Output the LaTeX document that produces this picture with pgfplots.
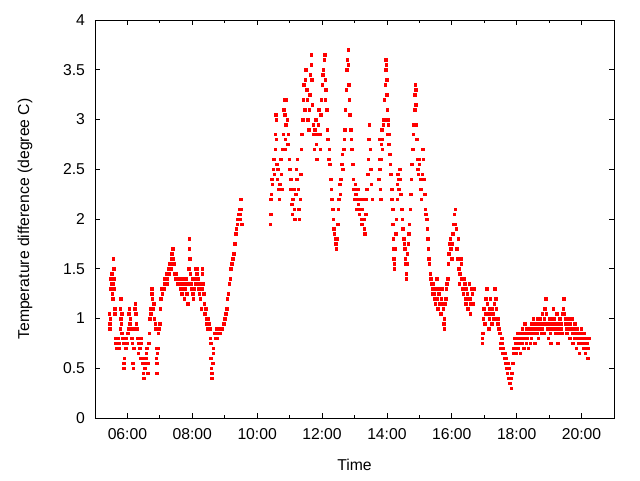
\documentclass[border=0pt]{standalone}
\usepackage{fontspec}
\setmainfont{Liberation Sans}
\usepackage{pgfplots}
\pgfplotsset{compat=1.18}
\begin{document}
\begin{tikzpicture}[x=1pt,y=1pt]
\path[use as bounding box] (0,0) rectangle (480,360);
\begin{axis}[
  at={(71.25pt,46.5pt)}, anchor=south west,
  width=389.25pt, height=298.5pt, scale only axis,
  xmin=5, xmax=21, ymin=0, ymax=4,
  xtick={6,8,...,20},
  xticklabels={06:00,08:00,10:00,12:00,14:00,16:00,18:00,20:00},
  minor xtick={7,9,...,19},
  ytick={0,0.5,...,4},
  yticklabels={0,0.5,1,1.5,2,2.5,3,3.5,4},
  tick align=inside,
  major tick length=3.4pt, minor tick length=2pt,
  tick style={black, line width=0.6pt},
  axis line style={black, line width=0.7pt},
  font=\fontsize{11.8}{14}\selectfont,
  xticklabel style={yshift=-4pt},
  yticklabel style={xshift=-4pt},
  xlabel={Time}, ylabel={Temperature difference (degree C)},
  xlabel style={at={(axis description cs:0.5,-0.1173)}, anchor=center},
  ylabel style={at={(axis description cs:-0.1349,0.5)}, anchor=center},
]
\addplot[only marks, red, mark=square*, mark size=0.95pt, mark options={draw=red, fill=red, line width=0.3pt}]
coordinates {
(5.44,1.05)(5.45,0.95)(5.46,0.90)(5.47,1.00)(5.48,1.30)(5.49,1.40)(5.50,1.35)(5.51,1.45)(5.52,1.40)(5.53,1.25)
(5.54,1.20)(5.55,1.35)(5.56,1.60)(5.57,1.50)(5.58,1.40)(5.59,1.30)(5.60,1.10)(5.61,1.05)(5.62,0.80)(5.63,0.75)
(5.65,0.70)(5.67,0.75)(5.69,0.70)(5.71,0.80)(5.73,0.75)(5.75,0.70)(5.77,0.90)(5.78,1.10)(5.79,1.20)(5.80,1.00)
(5.81,0.95)(5.82,1.05)(5.83,0.85)(5.85,0.80)(5.87,0.75)(5.88,0.55)(5.89,0.50)(5.90,0.60)(5.92,0.75)(5.94,0.70)
(5.96,0.80)(5.98,0.75)(6.00,0.85)(6.02,0.90)(6.04,1.05)(6.05,1.10)(6.07,0.95)(6.09,1.00)(6.11,0.90)(6.13,0.80)
(6.15,0.75)(6.17,0.55)(6.18,0.50)(6.20,0.70)(6.22,0.90)(6.23,1.10)(6.24,1.15)(6.25,1.05)(6.27,0.95)(6.29,0.90)
(6.31,0.80)(6.33,0.65)(6.35,0.75)(6.37,0.70)(6.39,0.60)(6.41,0.80)(6.43,0.75)(6.44,0.60)(6.46,0.55)(6.48,0.45)
(6.50,0.40)(6.52,0.55)(6.54,0.50)(6.56,0.60)(6.58,0.65)(6.60,0.70)(6.62,0.55)(6.63,0.45)(6.65,0.75)(6.67,0.85)
(6.69,1.00)(6.70,1.10)(6.72,1.05)(6.74,1.30)(6.75,1.25)(6.77,1.20)(6.79,1.10)(6.81,1.15)(6.83,1.00)(6.85,0.95)
(6.87,0.90)(6.88,0.70)(6.89,0.60)(6.90,0.45)(6.91,0.55)(6.92,0.65)(6.93,0.70)(6.95,0.85)(6.97,0.90)(6.99,0.95)
(7.01,1.10)(7.03,1.20)(7.05,1.30)(7.07,1.25)(7.09,1.30)(7.11,1.30)(7.13,1.35)(7.15,1.40)(7.17,1.40)(7.19,1.45)
(7.21,1.35)(7.23,1.40)(7.25,1.45)(7.27,1.50)(7.29,1.45)(7.31,1.55)(7.33,1.50)(7.35,1.60)(7.37,1.65)(7.39,1.70)
(7.41,1.60)(7.43,1.55)(7.45,1.45)(7.47,1.40)(7.49,1.40)(7.51,1.45)(7.53,1.40)(7.55,1.35)(7.57,1.40)(7.59,1.40)
(7.61,1.35)(7.63,1.40)(7.65,1.30)(7.67,1.25)(7.69,1.35)(7.71,1.40)(7.73,1.35)(7.75,1.20)(7.77,1.30)(7.79,1.40)
(7.81,1.35)(7.83,1.25)(7.85,1.15)(7.87,1.35)(7.89,1.50)(7.90,1.70)(7.91,1.80)(7.92,1.60)(7.93,1.45)(7.95,1.35)
(7.97,1.30)(7.99,1.40)(8.01,1.25)(8.03,1.20)(8.05,1.30)(8.07,1.40)(8.09,1.50)(8.11,1.35)(8.13,1.45)(8.15,1.50)
(8.17,1.40)(8.19,1.30)(8.21,1.25)(8.23,1.35)(8.25,1.20)(8.27,1.10)(8.29,1.30)(8.30,1.50)(8.31,1.45)(8.33,1.35)
(8.35,1.25)(8.37,1.15)(8.39,1.05)(8.41,1.10)(8.43,1.00)(8.45,0.95)(8.47,0.90)(8.49,1.00)(8.51,0.95)(8.53,0.90)
(8.55,0.80)(8.56,0.75)(8.57,0.60)(8.58,0.50)(8.59,0.45)(8.60,0.40)(8.62,0.40)(8.63,0.55)(8.64,0.65)(8.65,0.70)
(8.67,0.85)(8.69,0.85)(8.71,0.80)(8.73,0.90)(8.75,0.85)(8.77,0.80)(8.79,0.85)(8.81,0.85)(8.83,0.90)(8.85,0.85)
(8.88,0.90)(8.92,0.90)(8.96,0.95)(9.00,1.00)(9.03,1.05)(9.06,1.10)(9.08,1.20)(9.11,1.25)(9.14,1.35)(9.17,1.40)
(9.19,1.50)(9.22,1.55)(9.25,1.60)(9.27,1.65)(9.30,1.75)(9.33,1.85)(9.36,1.90)(9.38,1.95)(9.40,2.00)(9.42,2.05)
(9.44,2.10)(9.46,2.05)(9.48,2.00)(9.49,2.20)(9.51,2.10)(9.53,1.95)
(10.40,1.95)(10.41,2.05)(10.42,2.20)(10.43,2.25)(10.45,2.40)(10.47,2.35)(10.49,2.50)(10.51,2.60)(10.53,2.45)(10.55,2.70)
(10.56,2.85)(10.57,3.05)(10.58,3.00)(10.59,2.80)(10.60,2.55)(10.62,2.40)(10.64,2.50)(10.66,2.30)(10.68,2.20)(10.70,2.35)
(10.72,2.60)(10.74,2.45)(10.76,2.30)(10.78,2.70)(10.80,2.85)(10.82,3.10)(10.83,3.20)(10.84,3.05)(10.86,2.80)(10.87,2.70)
(10.88,2.95)(10.90,3.20)(10.92,3.00)(10.94,2.75)(10.96,2.85)(10.98,2.60)(11.00,2.50)(11.02,2.30)(11.04,2.40)(11.06,2.15)
(11.08,2.05)(11.10,2.20)(11.12,2.30)(11.14,2.10)(11.16,2.00)(11.18,2.25)(11.20,2.50)(11.22,2.40)(11.24,2.60)(11.26,2.30)
(11.28,2.10)(11.30,2.00)(11.32,2.20)(11.34,2.45)(11.36,2.70)(11.38,2.85)(11.40,3.00)(11.42,3.20)(11.44,3.35)(11.46,3.10)
(11.48,3.40)(11.50,3.50)(11.52,3.30)(11.54,3.20)(11.56,3.00)(11.58,2.90)(11.60,3.10)(11.62,3.25)(11.64,3.45)(11.66,3.55)
(11.67,3.65)(11.68,3.40)(11.70,3.15)(11.72,2.95)(11.74,2.85)(11.76,2.70)(11.78,2.90)(11.80,3.00)(11.82,2.75)(11.84,2.60)
(11.86,2.85)(11.88,2.95)(11.90,3.10)(11.92,2.85)(11.94,2.70)(11.96,3.05)(11.98,3.20)(12.00,3.35)(12.02,3.45)(12.04,3.50)
(12.06,3.60)(12.08,3.65)(12.09,3.40)(12.10,3.20)(12.12,3.30)(12.14,3.10)(12.16,2.90)(12.18,2.80)(12.20,2.60)(12.22,2.70)
(12.24,2.55)(12.26,2.40)(12.28,2.30)(12.30,2.20)(12.32,2.10)(12.34,2.00)(12.36,1.90)(12.38,1.85)(12.40,1.80)(12.42,1.75)
(12.44,1.70)(12.46,1.80)(12.48,1.95)(12.50,2.10)(12.52,2.20)(12.54,2.35)(12.56,2.25)(12.58,2.40)(12.60,2.55)(12.62,2.65)
(12.64,2.50)(12.66,2.70)(12.68,2.80)(12.70,2.90)(12.72,3.10)(12.74,3.30)(12.76,3.50)(12.78,3.60)(12.80,3.70)(12.81,3.55)
(12.82,3.35)(12.84,3.20)(12.86,3.05)(12.88,2.90)(12.90,2.80)(12.92,2.70)(12.94,2.55)(12.96,2.40)(12.98,2.30)(13.00,2.20)
(13.02,2.35)(13.04,2.25)(13.06,2.10)(13.08,2.20)(13.10,2.30)(13.12,2.15)(13.14,2.05)(13.16,2.20)(13.18,2.10)(13.20,2.00)
(13.22,1.95)(13.24,2.10)(13.26,2.20)(13.28,2.00)(13.30,1.90)(13.32,1.85)(13.34,2.05)(13.36,2.20)(13.38,2.30)(13.40,2.45)
(13.42,2.60)(13.44,2.80)(13.46,2.95)(13.48,2.70)(13.50,2.50)(13.52,2.35)(13.54,2.20)
(13.75,2.40)(13.76,2.60)(13.77,2.80)(13.78,2.50)(13.79,2.30)(13.80,2.20)(13.81,2.60)(13.82,2.75)(13.84,2.90)(13.85,2.70)
(13.86,2.80)(13.88,2.95)(13.90,3.00)(13.92,3.20)(13.94,3.35)(13.96,3.50)(13.97,3.60)(13.98,3.55)(13.99,3.40)(14.00,3.25)
(14.01,3.10)(14.02,3.00)(14.03,2.85)(14.04,2.95)(14.05,2.75)(14.06,2.85)(14.08,2.65)(14.10,2.55)(14.12,2.45)(14.13,2.30)
(14.14,2.20)(14.15,2.30)(14.17,2.10)(14.18,1.95)(14.19,1.80)(14.20,1.70)(14.21,1.60)(14.22,1.50)(14.23,1.55)(14.25,1.70)
(14.27,1.85)(14.29,2.00)(14.31,2.20)(14.32,2.35)(14.34,2.45)(14.35,2.40)(14.37,2.30)(14.39,2.50)(14.41,2.40)(14.43,2.25)
(14.45,2.10)(14.47,2.00)(14.49,1.90)(14.51,1.80)(14.53,1.75)(14.55,1.70)(14.56,1.60)(14.58,1.55)(14.59,1.45)(14.60,1.40)
(14.61,1.55)(14.63,1.65)(14.65,1.75)(14.67,1.85)(14.69,1.95)(14.71,2.10)(14.73,2.25)(14.75,2.40)(14.77,2.55)(14.79,2.70)
(14.81,2.85)(14.83,2.95)(14.85,3.10)(14.86,3.25)(14.87,3.35)(14.88,3.30)(14.89,3.15)(14.90,2.95)(14.91,2.80)(14.93,2.60)
(14.95,2.50)(14.97,2.45)(14.99,2.55)(15.00,2.60)(15.02,2.40)(15.04,2.30)(15.06,2.20)(15.08,2.45)(15.10,2.70)(15.12,2.60)
(15.14,2.40)(15.16,2.25)(15.18,2.10)(15.20,2.05)(15.22,2.00)(15.24,1.90)(15.25,1.80)(15.27,1.70)(15.29,1.60)(15.31,1.55)
(15.33,1.45)(15.35,1.40)(15.37,1.35)(15.39,1.30)(15.41,1.25)(15.43,1.35)(15.45,1.25)(15.47,1.20)(15.49,1.15)(15.51,1.30)
(15.53,1.40)(15.55,1.20)(15.57,1.10)(15.59,1.25)(15.61,1.30)(15.63,1.15)(15.65,1.05)(15.67,1.20)(15.69,1.30)(15.71,1.15)
(15.73,1.10)(15.75,0.95)(15.76,0.90)(15.77,1.00)(15.79,1.15)(15.81,1.20)(15.83,1.30)(15.85,1.35)(15.87,1.40)(15.89,1.55)
(15.91,1.65)(15.93,1.75)(15.95,1.80)(15.97,1.70)(15.99,1.60)(16.01,1.75)(16.03,1.85)(16.05,1.95)(16.07,2.05)(16.09,1.95)
(16.11,2.10)(16.13,1.90)(16.15,1.70)(16.17,1.60)(16.19,1.80)(16.21,1.50)(16.23,1.35)(16.25,1.45)(16.27,1.60)(16.29,1.55)
(16.31,1.40)(16.33,1.30)(16.35,1.25)(16.37,1.40)(16.39,1.35)(16.41,1.20)(16.43,1.15)(16.45,1.30)(16.47,1.25)(16.49,1.10)
(16.51,1.20)(16.53,1.35)(16.55,1.20)(16.57,1.05)(16.59,1.15)(16.61,1.30)(16.63,1.25)(16.65,1.15)(16.67,1.30)
(16.93,0.80)(16.94,0.75)(16.95,0.85)(16.97,1.00)(16.99,1.10)(17.01,0.95)(17.03,1.05)(17.05,1.20)(17.07,1.30)(17.09,1.15)
(17.11,1.05)(17.13,0.90)(17.15,1.00)(17.17,1.10)(17.19,1.20)(17.21,1.05)(17.23,0.95)(17.25,1.10)(17.27,1.05)(17.29,1.00)
(17.31,1.15)(17.33,1.30)(17.35,1.20)(17.37,1.10)(17.39,1.00)(17.41,0.95)(17.43,1.00)(17.45,0.90)(17.47,0.85)(17.49,0.75)
(17.51,0.70)(17.53,0.80)(17.55,0.75)(17.57,0.65)(17.59,0.70)(17.61,0.60)(17.63,0.65)(17.65,0.55)(17.67,0.60)(17.69,0.50)
(17.71,0.45)(17.73,0.55)(17.75,0.40)(17.77,0.50)(17.79,0.35)(17.81,0.40)(17.83,0.30)(17.85,0.45)(17.87,0.55)(17.89,0.65)
(17.91,0.70)(17.93,0.80)(17.95,0.75)(17.97,0.65)(17.99,0.70)(18.01,0.85)(18.03,0.80)(18.05,0.70)(18.07,0.75)(18.09,0.85)
(18.11,0.65)(18.13,0.80)(18.15,0.75)(18.17,0.90)(18.19,0.85)(18.21,0.70)(18.23,0.80)(18.25,0.95)(18.27,0.85)(18.29,0.75)
(18.31,0.90)(18.33,0.80)(18.35,0.70)(18.37,0.85)(18.39,0.90)(18.41,0.75)(18.43,0.85)(18.45,0.80)(18.47,0.95)(18.49,0.90)
(18.51,1.00)(18.53,0.85)(18.55,0.75)(18.57,0.90)(18.59,0.95)(18.61,0.85)(18.63,1.00)(18.65,0.90)(18.67,0.80)(18.69,0.95)
(18.71,0.90)(18.73,1.00)(18.75,0.85)(18.77,0.90)(18.79,1.05)(18.81,0.95)(18.83,0.85)(18.85,1.00)(18.87,1.10)(18.89,1.20)
(18.91,1.05)(18.93,0.95)(18.95,0.90)(18.97,0.80)(18.99,0.95)(19.01,1.00)(19.03,0.85)(19.05,0.75)(19.07,0.90)(19.09,1.00)
(19.11,0.95)(19.13,1.10)(19.15,1.00)(19.17,0.90)(19.19,0.85)(19.21,0.95)(19.23,1.05)(19.25,0.90)(19.27,0.75)(19.29,0.85)
(19.31,0.95)(19.33,1.00)(19.35,0.90)(19.37,0.95)(19.39,0.85)(19.41,1.05)(19.43,1.10)(19.45,1.20)(19.47,1.05)(19.49,0.95)
(19.51,1.00)(19.53,0.90)(19.55,0.85)(19.57,0.95)(19.59,1.00)(19.61,0.90)(19.63,0.80)(19.65,0.95)(19.67,0.90)(19.69,1.00)
(19.71,0.85)(19.73,0.75)(19.75,0.90)(19.77,0.80)(19.79,0.95)(19.81,0.85)(19.83,0.70)(19.85,0.80)(19.87,0.90)(19.89,0.85)
(19.91,0.75)(19.93,0.65)(19.95,0.80)(19.97,0.85)(19.99,0.90)(20.01,0.75)(20.03,0.80)(20.05,0.70)(20.07,0.85)(20.09,0.75)
(20.11,0.65)(20.13,0.80)(20.15,0.70)(20.17,0.75)(20.19,0.60)(20.21,0.70)(20.23,0.80)
};
\end{axis}
\end{tikzpicture}
\end{document}
